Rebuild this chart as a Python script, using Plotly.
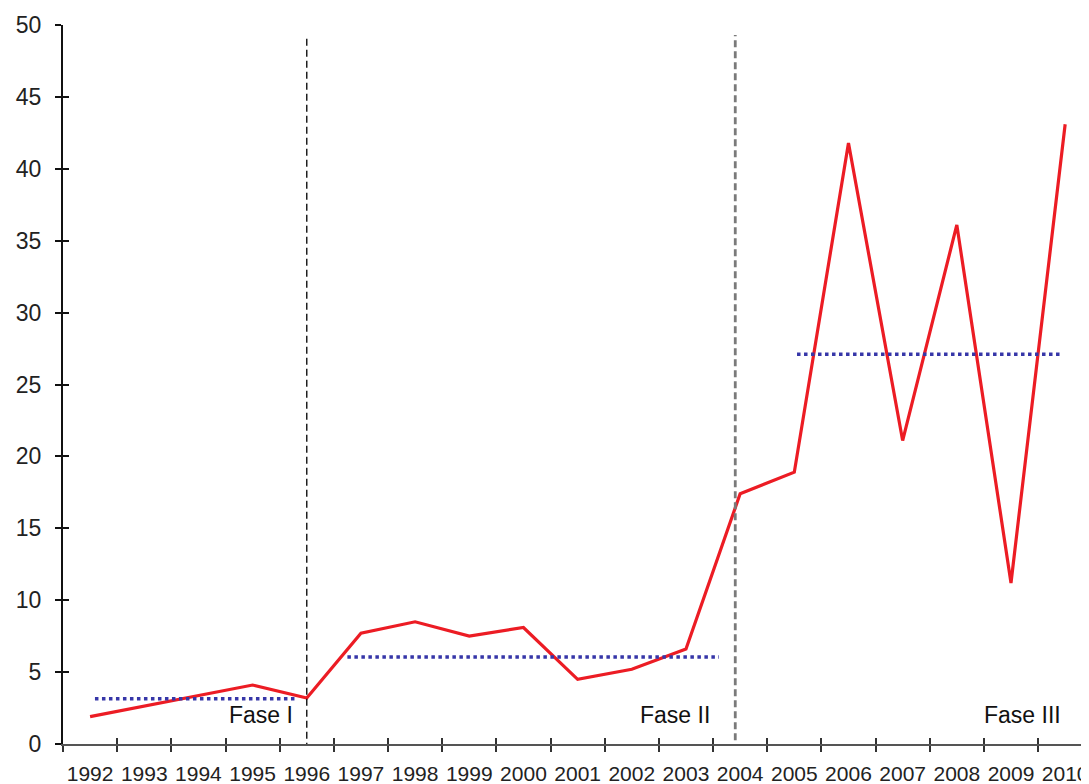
import plotly.graph_objects as go

# ---- data ----
years = ["1992", "1993", "1994", "1995", "1996", "1997", "1998", "1999", "2000",
         "2001", "2002", "2003", "2004", "2005", "2006", "2007", "2008", "2009", "2010"]
values = [1.9, 2.65, 3.4, 4.1, 3.2, 7.7, 8.5, 7.5, 8.1,
          4.5, 5.2, 6.6, 17.4, 18.9, 41.8, 21.1, 36.1, 11.2, 43.1]

phase_labels = ["Fase I", "Fase II", "Fase III"]
phase_means = [3.15, 6.05, 27.1]
phase_mean_start = [0.09, 4.75, 13.05]   # category-index positions of mean segments
phase_mean_end = [3.83, 11.61, 17.93]
phase_label_x = [3.78, 11.48, 17.96]
phase_breaks = [4.0, 11.91]            # 1996 and 2004 dividers

y_ticks = [0, 5, 10, 15, 20, 25, 30, 35, 40, 45, 50]

FONT = "Liberation Sans, Arial, sans-serif"
XRANGE = [-0.5, 18.44]

fig = go.Figure()

fig.add_trace(go.Scatter(
    x=years, y=values, mode="lines",
    line=dict(color="#ec1c24", width=3.2),
    hoverinfo="skip", showlegend=False,
))

# invisible trace to carry the overlay axes (inside half of the crossing ticks)
fig.add_trace(go.Scatter(
    x=years, y=values, mode="lines", opacity=0,
    xaxis="x2", yaxis="y2", hoverinfo="skip", showlegend=False,
))

shapes = []
for m, a, b in zip(phase_means, phase_mean_start, phase_mean_end):
    shapes.append(dict(type="line", xref="x", yref="y", x0=a, x1=b, y0=m, y1=m,
                       line=dict(color="#3636a8", width=3.5, dash="dot")))
shapes.append(dict(type="line", xref="x", yref="y", x0=phase_breaks[0], x1=phase_breaks[0],
                   y0=-0.4, y1=49.3, line=dict(color="#111111", width=1.4, dash="7px,4px")))
shapes.append(dict(type="line", xref="x", yref="y", x0=phase_breaks[1], x1=phase_breaks[1],
                   y0=-0.5, y1=49.3, line=dict(color="#7a7a7a", width=2.8, dash="7px,4px")))

annotations = []
for lab, xa in zip(phase_labels, phase_label_x):
    annotations.append(dict(x=xa, y=2.0, xref="x", yref="y", text=lab, showarrow=False,
                            xanchor="right", yanchor="middle",
                            font=dict(family=FONT, size=23, color="#111111")))

fig.update_layout(
    width=1081, height=776,
    margin=dict(l=55, r=0, t=17, b=40, autoexpand=False),
    paper_bgcolor="white", plot_bgcolor="white",
    showlegend=False,
    shapes=shapes, annotations=annotations,
    font=dict(family=FONT, color="#222222"),
    xaxis=dict(
        type="category", categoryarray=years, categoryorder="array",
        range=XRANGE, tickson="boundaries", tickangle=0, automargin=False,
        ticks="outside", ticklen=6, tickwidth=1.5, tickcolor="#333333",
        showline=True, linecolor="#555555", linewidth=2,
        showgrid=False, zeroline=False,
        tickfont=dict(family=FONT, size=21, color="#222222"),
        ticklabelstandoff=10,
    ),
    yaxis=dict(
        range=[0, 50], tickvals=y_ticks, automargin=False,
        ticks="outside", ticklen=6, tickwidth=1.5, tickcolor="#111111",
        showline=True, linecolor="#111111", linewidth=2,
        showgrid=False, zeroline=False,
        tickfont=dict(family=FONT, size=23, color="#222222"),
        ticklabelstandoff=9,
    ),
    xaxis2=dict(
        type="category", categoryarray=years, categoryorder="array",
        overlaying="x", range=XRANGE, tickson="boundaries", automargin=False,
        ticks="inside", ticklen=6, tickwidth=1.5, tickcolor="#333333",
        showticklabels=False, showline=False, showgrid=False, zeroline=False,
    ),
    yaxis2=dict(
        overlaying="y", side="left", range=[0, 50], tickvals=y_ticks, automargin=False,
        ticks="inside", ticklen=6, tickwidth=1.5, tickcolor="#111111",
        showticklabels=False, showline=False, showgrid=False, zeroline=False,
    ),
)

fig.write_html("out.html")
